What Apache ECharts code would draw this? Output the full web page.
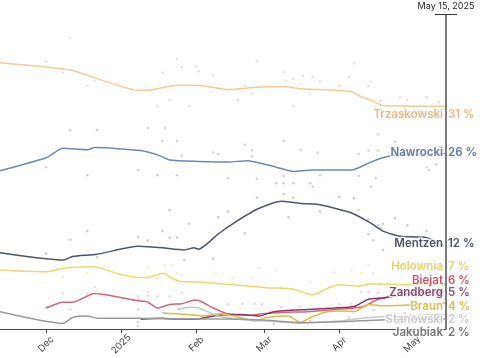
<!DOCTYPE html>
<html><head><meta charset="utf-8">
<script src="https://cdn.jsdelivr.net/npm/echarts@6/dist/echarts.min.js"></script>
<style>html,body{margin:0;padding:0;background:#fff}#c{width:480px;height:358px}</style>
</head><body><div id="c"></div>
<script>
// ---------- DATA ----------
const startDate = '2024-11-12';
const endDate = '2025-05-15';
const endLabel = 'May 15, 2025';
const tickDates = ['2024-12-01','2025-01-01','2025-02-01','2025-03-01','2025-04-01','2025-05-01'];
const tickLabels = ['Dec','2025','Feb','Mar','Apr','May'];

const names = ['Trzaskowski','Nawrocki','Mentzen','Holownia','Biejat','Zandberg','Braun','Stanowski','Jakubiak'];
const finalValues = ['31 %','26 %','12 %','7 %','6 %','5 %','4 %','2 %','2 %'];
const labelAnchor = [30.0, 24.7, 12.2, 9.05, 7.16, 5.4, 3.5, 1.76, -0.07];

const trzaskowski = [['2024-11-12',36.7],['2024-12-11',35.7],['2024-12-22',34.5],['2025-01-08',32.9],['2025-01-12',32.9],['2025-01-24',33.6],['2025-02-01',33.6],['2025-02-14',33.0],['2025-02-26',33.3],['2025-03-09',33.4],['2025-03-16',33.1],['2025-03-24',33.0],['2025-04-06',32.7],['2025-04-10',32.0],['2025-04-14',31.5],['2025-04-19',30.8],['2025-05-15',30.7]];
const nawrocki = [['2024-11-12',21.8],['2024-12-01',23.6],['2024-12-08',24.9],['2024-12-18',24.7],['2024-12-21',25.0],['2025-01-09',24.6],['2025-01-16',24.0],['2025-01-21',23.3],['2025-02-02',23.1],['2025-02-14',23.0],['2025-02-22',23.2],['2025-03-06',22.3],['2025-03-13',21.7],['2025-03-21',21.9],['2025-04-06',21.9],['2025-04-14',23.0],['2025-04-19',23.6],['2025-04-25',24.0],['2025-05-15',24.2]];
const mentzen = [['2024-11-12',10.5],['2024-12-08',9.5],['2024-12-12',10.0],['2024-12-22',10.3],['2025-01-08',11.4],['2025-01-12',11.35],['2025-01-18',11.2],['2025-01-27',10.9],['2025-01-31',11.2],['2025-02-02',11.0],['2025-02-06',11.9],['2025-02-10',13.1],['2025-02-16',14.5],['2025-02-26',16.5],['2025-03-08',17.6],['2025-03-16',17.3],['2025-03-23',17.2],['2025-04-06',16.0],['2025-04-14',14.6],['2025-04-19',13.5],['2025-04-26',12.8],['2025-05-07',12.6],['2025-05-14',11.5]];
const holownia = [['2024-11-12',8.1],['2024-12-01',7.9],['2024-12-09',8.4],['2024-12-21',8.6],['2024-12-30',7.7],['2025-01-08',7.1],['2025-01-12',7.1],['2025-01-18',7.7],['2025-01-22',7.0],['2025-01-25',6.6],['2025-02-02',6.5],['2025-02-16',6.1],['2025-03-02',5.7],['2025-03-13',5.5],['2025-03-21',4.7],['2025-03-27',5.6],['2025-04-01',6.1],['2025-04-09',5.9],['2025-04-13',6.2],['2025-04-19',6.2],['2025-04-30',6.1],['2025-05-15',6.1]];
const biejat = [['2024-12-01',2.9],['2024-12-08',3.7],['2024-12-12',3.7],['2024-12-21',4.9],['2025-01-08',3.9],['2025-01-12',3.7],['2025-01-16',2.9],['2025-01-21',3.4],['2025-01-26',3.5],['2025-01-29',3.8],['2025-02-01',4.0],['2025-02-03',3.8],['2025-02-08',2.9],['2025-02-14',2.1],['2025-02-23',1.9],['2025-02-28',2.1],['2025-03-09',2.3],['2025-03-19',2.4],['2025-03-30',2.7],['2025-04-07',2.9],['2025-04-11',3.1],['2025-04-17',4.1],['2025-04-23',4.5],['2025-05-01',5.0],['2025-05-12',5.2]];
const zandberg = [['2025-01-09',1.35],['2025-01-18',1.5],['2025-01-24',1.35],['2025-02-01',1.35],['2025-02-08',1.8],['2025-02-16',2.0],['2025-02-19',2.0],['2025-02-27',1.8],['2025-03-05',2.4],['2025-03-19',2.7],['2025-03-30',2.9],['2025-04-07',3.1],['2025-04-13',4.1],['2025-04-19',4.3],['2025-05-01',4.9],['2025-05-14',5.1]];
const braun = [['2025-01-18',2.2],['2025-01-24',2.1],['2025-02-01',1.9],['2025-02-03',1.8],['2025-02-11',2.1],['2025-02-19',1.6],['2025-02-25',1.1],['2025-03-02',1.6],['2025-03-11',1.8],['2025-03-16',0.9],['2025-03-20',1.6],['2025-03-27',2.4],['2025-04-03',2.5],['2025-04-07',2.4],['2025-04-13',3.4],['2025-04-18',3.2],['2025-05-15',3.6]];
const stanowski = [['2025-01-24',2.7],['2025-01-29',3.0],['2025-02-02',2.9],['2025-02-10',1.8],['2025-02-19',1.35],['2025-03-02',1.1],['2025-03-11',0.9],['2025-03-16',0.8],['2025-03-23',0.9],['2025-04-01',1.1],['2025-04-10',1.5],['2025-04-23',1.8],['2025-05-15',2.0]];
const jakubiak = [['2024-11-12',2.4],['2024-12-08',0.8],['2024-12-12',1.6],['2024-12-18',1.8],['2024-12-22',1.5],['2025-01-08',1.5],['2025-01-24',1.4],['2025-02-14',1.4],['2025-03-02',1.2],['2025-03-16',0.9],['2025-04-01',1.0],['2025-04-20',1.3],['2025-05-15',1.4]];

// individual polls (dots)
const trzPolls = [['2024-12-11',40.1],['2024-12-01',36.9],['2024-12-08',35.3],['2024-12-18',33.5],['2024-12-21',34.2],['2025-01-18',35.3],['2025-01-24',37.2],['2025-01-26',36.1],['2025-02-01',36.2],['2025-02-02',35.5],['2025-02-08',35.0],['2025-01-19',33.4],['2025-01-21',31.5],['2025-01-16',30.7],['2025-01-29',30.7],['2025-02-18',31.5],['2025-02-21',33.5],['2025-02-24',32.4],['2025-02-26',36.9],['2025-03-09',35.4],['2025-03-10',34.2],['2025-03-13',34.5],['2025-03-17',34.9],['2025-03-21',34.7],['2025-03-24',34.1],['2025-03-20',32.4],['2025-03-13',30.7],['2025-04-01',33.5],['2025-04-05',34.7],['2025-04-07',36.6],['2025-04-09',32.2],['2025-04-13',33.5],['2025-04-14',34.1],['2025-04-18',31.5],['2025-04-26',31.9],['2025-04-29',31.5],['2025-05-07',31.9],['2025-05-12',31.2],['2025-04-26',29.7]];
const nawPolls = [['2024-12-01',22.3],['2024-12-11',27.4],['2024-12-22',27.4],['2024-12-18',21.2],['2025-01-08',21.9],['2025-01-12',27.7],['2025-01-16',21.2],['2025-01-18',25.9],['2025-01-19',27.7],['2025-01-24',25.9],['2025-01-24',21.2],['2025-01-26',23.9],['2025-02-08',24.3],['2025-02-10',24.1],['2025-02-14',20.8],['2025-02-21',25.4],['2025-02-24',24.6],['2025-02-24',23.8],['2025-02-26',20.7],['2025-03-09',25.9],['2025-03-06',20.1],['2025-03-09',20.1],['2025-03-13',20.1],['2025-03-09',21.1],['2025-03-16',24.7],['2025-03-20',20.1],['2025-03-21',19.6],['2025-03-23',24.3],['2025-03-24',21.2],['2025-04-09',24.1],['2025-04-09',21.1],['2025-04-13',24.6],['2025-04-14',19.6],['2025-04-16',20.8],['2025-04-17',26.8],['2025-04-17',24.6],['2025-04-24',25.8],['2025-04-26',24.3],['2025-05-07',22.3],['2025-05-11',22.7],['2025-05-08',21.9]];
const menPolls = [['2025-02-26',18.1],['2025-03-09',18.6],['2025-03-13',18.1],['2025-04-01',18.2],['2025-04-07',18.0],['2025-04-09',16.4],['2025-02-14',16.2],['2025-02-10',15.4],['2025-01-29',14.5],['2025-01-21',16.4],['2025-03-11',15.4],['2025-03-24',16.2],['2025-04-13',15.1],['2025-04-17',14.3],['2025-04-19',14.5],['2025-04-24',15.3],['2025-04-29',14.3],['2025-05-07',13.5],['2024-12-18',13.5],['2024-12-01',10.4],['2024-12-11',12.3],['2024-12-22',9.9],['2025-01-08',12.7],['2025-01-12',12.2],['2025-01-18',13.5],['2025-01-21',12.6],['2025-01-24',12.6],['2025-01-27',9.5],['2025-02-08',9.7],['2025-02-21',13.2],['2025-04-13',13.1],['2025-04-15',12.2],['2025-04-19',10.9],['2025-04-18',13.9]];
const holPolls = [['2024-12-01',7.8],['2024-12-08',7.2],['2024-12-18',7.8],['2024-12-22',5.4],['2025-01-12',8.5],['2025-01-16',7.0],['2025-01-19',8.8],['2025-01-22',8.8],['2025-01-24',7.7],['2025-01-26',7.4],['2025-02-09',7.8],['2025-02-16',7.0],['2025-02-24',7.0],['2025-02-27',8.4],['2025-03-06',8.1],['2025-03-08',5.8],['2025-03-20',6.5],['2025-03-30',7.8],['2025-04-01',6.1],['2025-04-06',8.1],['2025-04-10',7.7],['2025-04-13',8.8],['2025-04-15',7.7],['2025-04-18',6.1]];
const biePolls = [['2024-12-08',4.9],['2024-12-11',2.7],['2024-12-18',4.9],['2024-12-21',5.8],['2025-01-08',4.5],['2025-01-12',5.1],['2025-01-16',4.5],['2025-01-21',4.5],['2025-01-26',5.0],['2025-02-14',3.4],['2025-02-20',3.5],['2025-02-25',3.5],['2025-02-28',3.4],['2025-03-08',3.0],['2025-03-16',3.1],['2025-04-01',3.4],['2025-04-06',3.4],['2025-04-10',5.1],['2025-04-13',5.1],['2025-04-17',5.0],['2025-04-21',4.5]];
const otherPolls = [['2024-12-01',3.0],['2025-01-08',4.1],['2025-01-08',2.7],['2025-01-08',0.9],['2025-01-08',0.4],['2025-01-12',4.6],['2025-02-20',1.5],['2025-03-05',0.7],['2025-03-20',1.2],['2025-04-05',1.6],['2025-04-15',2.6],['2025-04-22',1.0],['2025-04-28',2.2],['2025-05-07',1.5]];

// ---------- CHART ----------
function t(s){const p=s.split('-').map(Number);return new Date(p[0],p[1]-1,p[2]).getTime();}
function conv(arr){return arr.map(d=>[t(d[0]),d[1]]);}

const lineColors = ['#f6c995','#6f87b8','#4b5470','#f3d66a','#d9627c','#8b356c','#dcbc45','#c6c6c6','#9a9a9a'];
const textColors = ['#eda35a','#3d5792','#1c2640','#e9c63f','#c8253f','#6a1c4c','#cdb024','#bdbdbd','#555555'];
const lineData = [trzaskowski,nawrocki,mentzen,holownia,biejat,zandberg,braun,stanowski,jakubiak];
const pollSets = [[trzPolls,'rgba(195,180,165,0.5)'],[nawPolls,'rgba(120,135,165,0.45)'],[menPolls,'rgba(110,115,135,0.45)'],[holPolls,'rgba(235,210,110,0.5)'],[biePolls,'rgba(210,120,140,0.4)'],[otherPolls,'rgba(150,150,150,0.45)']];

const chart = echarts.init(document.getElementById('c'), null, {renderer:'canvas'});
const FONT = 'Inter, "Noto Sans", sans-serif';
const series = [];
pollSets.forEach(ps=>{
  series.push({type:'scatter',data:conv(ps[0]),symbolSize:2.6,itemStyle:{color:ps[1]},silent:true,z:1});
});
lineData.forEach((d,i)=>{
  series.push({type:'line',data:conv(d),showSymbol:false,symbol:'none',smooth:0.2,
    lineStyle:{color:lineColors[i],width:1.5},z:3,silent:true});
});
const endT = t(endDate);
series.push({type:'line',data:[],markLine:{silent:true,symbol:'none',
  lineStyle:{color:'#7a7a7a',width:2,type:'solid'},
  label:{show:true,position:'end',formatter:endLabel,color:'#222',fontSize:9,fontFamily:FONT,distance:3},
  data:[{xAxis:endT}]},z:4});
const labelFont = {fontFamily:FONT,fontSize:11.5,fontWeight:600,textBorderColor:'#fff',textBorderWidth:2.5,offset:[0,3]};
series.push({type:'scatter',symbolSize:0,clip:false,z:10,silent:true,
  data:names.map((n,i)=>({value:[endT,labelAnchor[i]],label:{color:textColors[i]}})),
  label:Object.assign({show:true,position:'left',distance:3,formatter:p=>names[p.dataIndex]},labelFont)});
series.push({type:'scatter',symbolSize:0,clip:false,z:10,silent:true,
  data:finalValues.map((n,i)=>({value:[endT,labelAnchor[i]],label:{color:textColors[i]}})),
  label:Object.assign({show:true,position:'right',distance:2,formatter:p=>finalValues[p.dataIndex]},labelFont)});

const tickT = tickDates.map(t);
chart.setOption({
  animation:false,
  grid:{left:0,right:34,top:14,bottom:23,containLabel:false},
  xAxis:{type:'value',min:t(startDate),max:endT,
    axisLine:{lineStyle:{color:'#444',width:1}},
    axisTick:{show:true,length:4,lineStyle:{color:'#444'},customValues:tickT},
    splitLine:{show:false},
    axisLabel:{customValues:tickT,rotate:45,fontSize:9.5,color:'#444',fontFamily:FONT,
      align:'center',verticalAlign:'middle',margin:15,
      formatter:v=>{const k=tickT.indexOf(v);return k>=0?tickLabels[k]:'';}}},
  yAxis:{type:'value',min:0,max:43.4,show:false,splitLine:{show:false}},
  series:series
});
const topPt = chart.convertToPixel({gridIndex:0},[endT,43.4]);
chart.setOption({graphic:[{type:'line',shape:{x1:topPt[0]-11,y1:topPt[1]+0.5,x2:topPt[0]+11,y2:topPt[1]+0.5},style:{stroke:'#333',lineWidth:1},z:20}]});
</script></body></html>
